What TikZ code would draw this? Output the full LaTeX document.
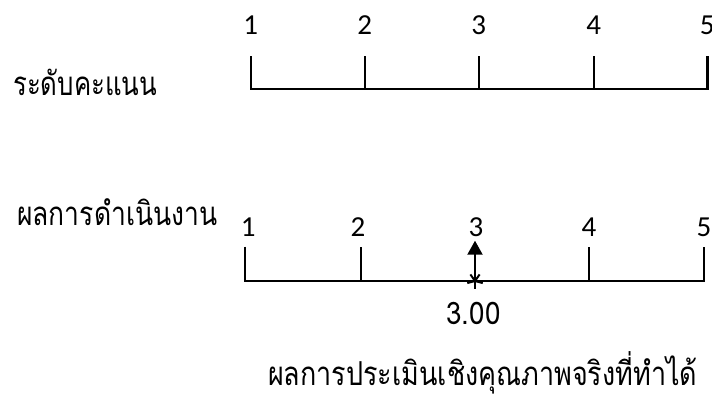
\documentclass[tikz,border=0pt]{standalone}
\usepackage{fontspec}
\setmainfont{Carlito}
\newfontfamily\thaifont[Script=Thai]{Loma}
\usetikzlibrary{arrows.meta}
\begin{document}
\begin{tikzpicture}[x=1pt,y=-1pt,
  num/.style={font=\fontsize{29}{32}\selectfont, inner sep=0pt},
  thai/.style={font=\thaifont\fontsize{33}{36}\selectfont, inner sep=0pt, anchor=base west},
  val/.style={font=\thaifont\fontsize{31}{34}\selectfont, inner sep=0pt},
  axis/.style={line width=2.4pt, line join=miter},
  tickline/.style={line width=2.2pt},
  pointer/.style={line width=2pt, -{Triangle[width=15pt,length=14pt]}},
  star/.style={line width=2pt}]
\useasboundingbox (0,0) rectangle (712,394);
% top scale
\foreach \i/\x in {1/250.7,2/364.7,3/478.7,4/593.7,5/707.3}{
  \coordinate (A\i) at (\x,89);
  \coordinate (A\i t) at (\x,56);
  \node[num] (LA\i) at (\x,25) {\i};
}
\draw[axis] (A1t) -- (A1) -- (A5) -- (A5t);
\foreach \i in {2,3,4}{ \draw[tickline] (A\i) -- (A\i t); }
% bottom scale
\foreach \i/\x in {1/245,2/361,3/475,4/589.3,5/704}{
  \coordinate (B\i) at (\x,280.7);
  \coordinate (B\i t) at (\x,246.7);
}
\foreach \i/\x in {1/248.3,2/358,3/476,4/589,5/704}{
  \node[num] (LB\i) at (\x,227) {\i};
}
\draw[axis, line width=2pt] (B1t) -- (B1) -- (B5) -- (B5t);
\foreach \i in {2,4}{ \draw[tickline, line width=2pt] (B\i) -- (B\i t); }
% pointer
\coordinate (S) at (475,281);
\coordinate (tip) at (475,240.7);
\draw[pointer] (S) -- (tip);
\foreach \a in {90,15,165,-55,-125}{
  \draw[star] (S) -- ++(\a:8);
}
\node[val] (v) at (473.5,313) {\resizebox{54pt}{\height}{3.00}};
% labels
\node[thai] (t1) at (13,95) {\resizebox{144pt}{\height}{ระดับคะแนน}};
\node[thai] (t2) at (17,225) {\resizebox{200pt}{\height}{ผลการดำเนินงาน}};
\node[thai] (t3) at (268,385) {\resizebox{429pt}{\height}{ผลการประเมินเชิงคุณภาพจริงที่ทำได้}};
\end{tikzpicture}
\end{document}
